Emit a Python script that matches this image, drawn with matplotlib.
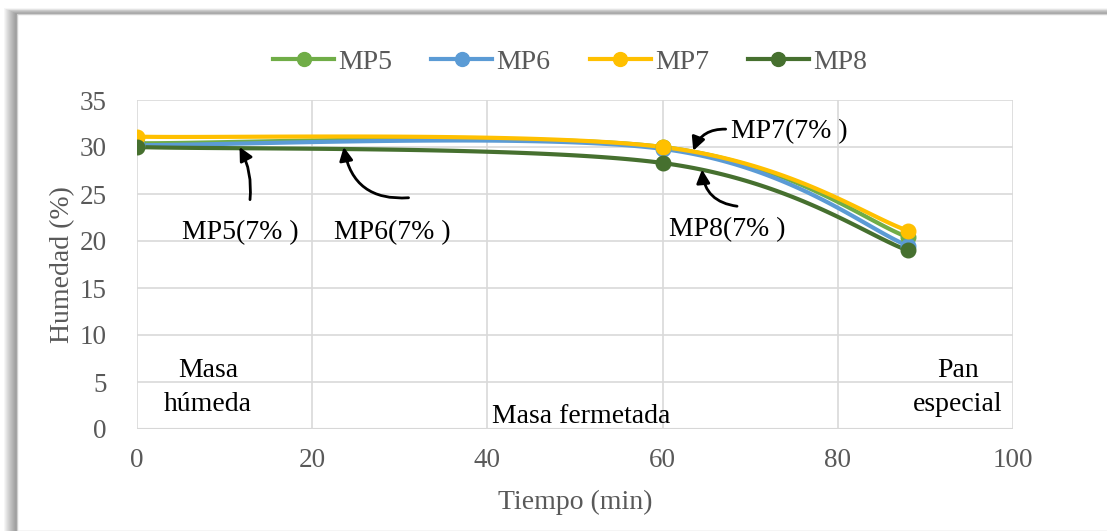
import numpy as np
import matplotlib
matplotlib.use("Agg")
import matplotlib.pyplot as plt
from matplotlib.patches import Rectangle

plt.rcParams['font.family'] = ['Liberation Serif', 'DejaVu Serif']

# Moisture content over time for each formulation
tiempo = [0, 60, 88]
series_names = ["MP5", "MP6", "MP7", "MP8"]
mp5 = [30.4, 30.0, 20.4]
mp6 = [30.2, 29.8, 19.5]
mp7 = [31.1, 30.0, 21.1]
mp8 = [30.0, 28.3, 19.0]
colors = ["#70AD47", "#5B9BD5", "#FFC000", "#46702F"]

x_ticks = [0, 20, 40, 60, 80, 100]
y_ticks = [0, 5, 10, 15, 20, 25, 30, 35]

W, H = 1107, 531
fig = plt.figure(figsize=(W / 100, H / 100), dpi=100)

# chart frame with a soft drop shadow on the left and top
for i in range(14):
    fig.patches.append(Rectangle((17 - i, 0), W, H - 14 + i * 0.45,
                                 transform=None, facecolor="#000000",
                                 alpha=0.035, edgecolor="none", zorder=-5))
fig.patches.append(Rectangle((17, 0), W, H - 14, transform=None,
                             facecolor="white", edgecolor="#D0D0D0",
                             linewidth=1.0, zorder=-4))

ax = fig.add_axes([137 / W, 1 - 429 / H, (1013 - 137) / W, (429 - 100) / H])
ax.set_facecolor("none")


def smooth(xs, ys, n=60):
    """Cardinal (Catmull-Rom) Bezier smoothing through the points."""
    P = np.column_stack([xs, ys]).astype(float)
    out = [P[0]]
    for i in range(len(P) - 1):
        p0 = P[i - 1] if i > 0 else P[i]
        p1, p2 = P[i], P[i + 1]
        p3 = P[i + 2] if i + 2 < len(P) else P[i + 1]
        c1 = p1 + (p2 - p0) / 6.0
        c2 = p2 - (p3 - p1) / 6.0
        t = np.linspace(0, 1, n)[1:, None]
        seg = ((1 - t) ** 3) * p1 + 3 * ((1 - t) ** 2) * t * c1 \
            + 3 * (1 - t) * t ** 2 * c2 + t ** 3 * p2
        out.extend(seg)
    out = np.array(out)
    return out[:, 0], out[:, 1]


for name, vals, c in zip(series_names, [mp5, mp6, mp7, mp8], colors):
    sx, sy = smooth(tiempo, vals)
    ax.plot(sx, sy, color=c, lw=3.0, solid_capstyle="round", zorder=3)
    ax.plot(tiempo, vals, "o", color=c, ms=10.5, zorder=4)
    ax.plot([], [], color=c, lw=3.0, marker="o", ms=10, label=name)

ax.set_xlim(0, 100)
ax.set_ylim(0, 35)
ax.set_xticks(x_ticks)
ax.set_yticks(y_ticks)
ax.grid(True, color="#D9D9D9", lw=1.2, zorder=0)
for s in ax.spines.values():
    s.set_visible(False)
ax.axhline(0, color="#D0D0D0", lw=1.5, zorder=1)
ax.tick_params(length=0, labelsize=19.5, labelcolor="#595959")
ax.tick_params(axis="y", pad=22)
ax.tick_params(axis="x", pad=14)
ax.set_xlabel("Tiempo (min)", fontsize=20, color="#595959", labelpad=12)
ax.set_ylabel("Humedad (%)", fontsize=20, color="#595959", labelpad=3)

fig.legend(loc="center", bbox_to_anchor=(570 / W, 1 - 62 / H), ncol=4,
           frameon=False, fontsize=20, handlelength=2.2, handletextpad=0.15,
           columnspacing=1.4, labelcolor="#595959")

# stage labels
txt = dict(fontsize=20, color="black", ha="center", va="center",
           linespacing=1.0)
stage = dict(txt, linespacing=1.45)
ax.text(8.1, 4.4, "Masa\nhúmeda", **stage)
ax.text(50.7, 1.3, "Masa fermetada", **txt)
ax.text(93.7, 4.4, "Pan\nespecial", **stage)

# series call-outs
arrow = dict(arrowstyle="-|>,head_length=0.8,head_width=0.4", color="black",
             lw=2.0, shrinkA=0, shrinkB=0)
ax.text(11.8, 20.9, "MP5(7% )", **txt)
ax.annotate("", xy=(11.7, 30.0), xytext=(12.9, 24.4),
            arrowprops=dict(arrow, connectionstyle="arc3,rad=0.15"))
ax.text(29.1, 20.9, "MP6(7% )", **txt)
ax.annotate("", xy=(23.6, 30.0), xytext=(31.0, 24.6),
            arrowprops=dict(arrow, connectionstyle="arc3,rad=-0.45"))
ax.text(74.5, 31.6, "MP7(7% )", **txt)
ax.annotate("", xy=(63.5, 29.6), xytext=(67.2, 31.9),
            arrowprops=dict(arrow, connectionstyle="arc3,rad=0.35"))
ax.text(67.4, 21.2, "MP8(7% )", **txt)
ax.annotate("", xy=(64.5, 27.6), xytext=(68.5, 23.7),
            arrowprops=dict(arrow, connectionstyle="arc3,rad=-0.4"))

fig.savefig("out.png", dpi=100)
